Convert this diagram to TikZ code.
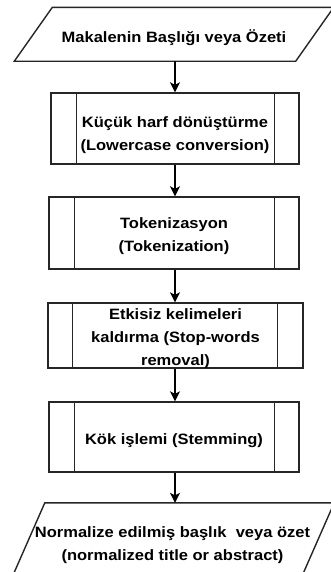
\documentclass[tikz,border=0pt]{standalone}
\usepackage{fontspec}
\setmainfont[FakeStretch=1.1]{Liberation Sans}
\usetikzlibrary{arrows.meta}
\tikzset{
  outline/.style={draw=black!85, line width=1.4pt},
  txt/.style={font=\bfseries\fontsize{15}{23}\selectfont, align=center, inner sep=0pt, text=black},
  procbox/.style={outline, inner sep=0pt},
  iobox/.style={inner sep=0pt},
  arr/.style={draw=black, line width=1.3pt, -{Stealth[length=10pt, width=10pt, inset=2.5pt]}},
}
\begin{document}
\begin{tikzpicture}[x=1pt, y=-1pt]
\useasboundingbox (0,0) rectangle (331,572);
\clip (0,0) rectangle (331,572);
\fill[white] (0,0) rectangle (331,572);

% top input parallelogram
\node[iobox, minimum width=281pt, minimum height=53.5pt] (p1) at (174,34.3) {};
\draw[outline] ([xshift=-19pt]p1.south west) -- ([xshift=19pt]p1.north west)
  -- ([xshift=19pt]p1.north east) -- ([xshift=-19pt]p1.south east) -- cycle;
\node[txt] (t1) at ([yshift=-3.5pt]p1.center) {Makalenin Başlığı veya Özeti};

% process boxes
\node[procbox, minimum width=248pt, minimum height=71pt] (b1) at (175,128.5) {};
\draw[outline] ([xshift=26pt]b1.north west) -- ([xshift=26pt]b1.south west);
\draw[outline] ([xshift=-25pt]b1.north east) -- ([xshift=-25pt]b1.south east);
\node[txt] (t2) at ([yshift=-6.5pt]b1.center) {Küçük harf dönüştürme\\(Lowercase conversion)};

\node[procbox, minimum width=250pt, minimum height=72pt] (b2) at (174,233) {};
\draw[outline] ([xshift=26pt]b2.north west) -- ([xshift=26pt]b2.south west);
\draw[outline] ([xshift=-25pt]b2.north east) -- ([xshift=-25pt]b2.south east);
\node[txt] (t3) at ([yshift=-3.5pt]b2.center) {Tokenizasyon\\(Tokenization)};

\node[procbox, minimum width=255pt, minimum height=65pt] (b3) at (175.5,335.5) {};
\draw[outline] ([xshift=25pt]b3.north west) -- ([xshift=25pt]b3.south west);
\draw[outline] ([xshift=-26pt]b3.north east) -- ([xshift=-26pt]b3.south east);
\node[txt] (t4) at ([yshift=-3.5pt]b3.center) {Etkisiz kelimeleri\\kaldırma (Stop-words\\removal)};

\node[procbox, minimum width=250pt, minimum height=70pt] (b4) at (174,437) {};
\draw[outline] ([xshift=26pt]b4.north west) -- ([xshift=26pt]b4.south west);
\draw[outline] ([xshift=-25pt]b4.north east) -- ([xshift=-25pt]b4.south east);
\node[txt] (t5) at ([yshift=-3.5pt]b4.center) {Kök işlemi (Stemming)};

% bottom output parallelogram
\node[iobox, minimum width=289pt, minimum height=77pt] (p2) at (172.5,541.5) {};
\draw[outline] ([xshift=-17pt]p2.south west) -- ([xshift=17pt]p2.north west)
  -- ([xshift=17pt]p2.north east) -- ([xshift=-17pt]p2.south east) -- cycle;
\node[txt] (t6) at ([yshift=-3.5pt]p2.center) {Normalize edilmiş başlık~ veya özet\\(normalized title or abstract)};

% connectors
\draw[arr] (b1.north |- p1.south) -- (b1.north);
\draw[arr] (b1.south) -- (b1.south |- b2.north);
\draw[arr] (b1.south |- b2.south) -- (b1.south |- b3.north);
\draw[arr] (b1.south |- b3.south) -- (b1.south |- b4.north);
\draw[arr] (b1.south |- b4.south) -- (b1.south |- p2.north);
\end{tikzpicture}
\end{document}
